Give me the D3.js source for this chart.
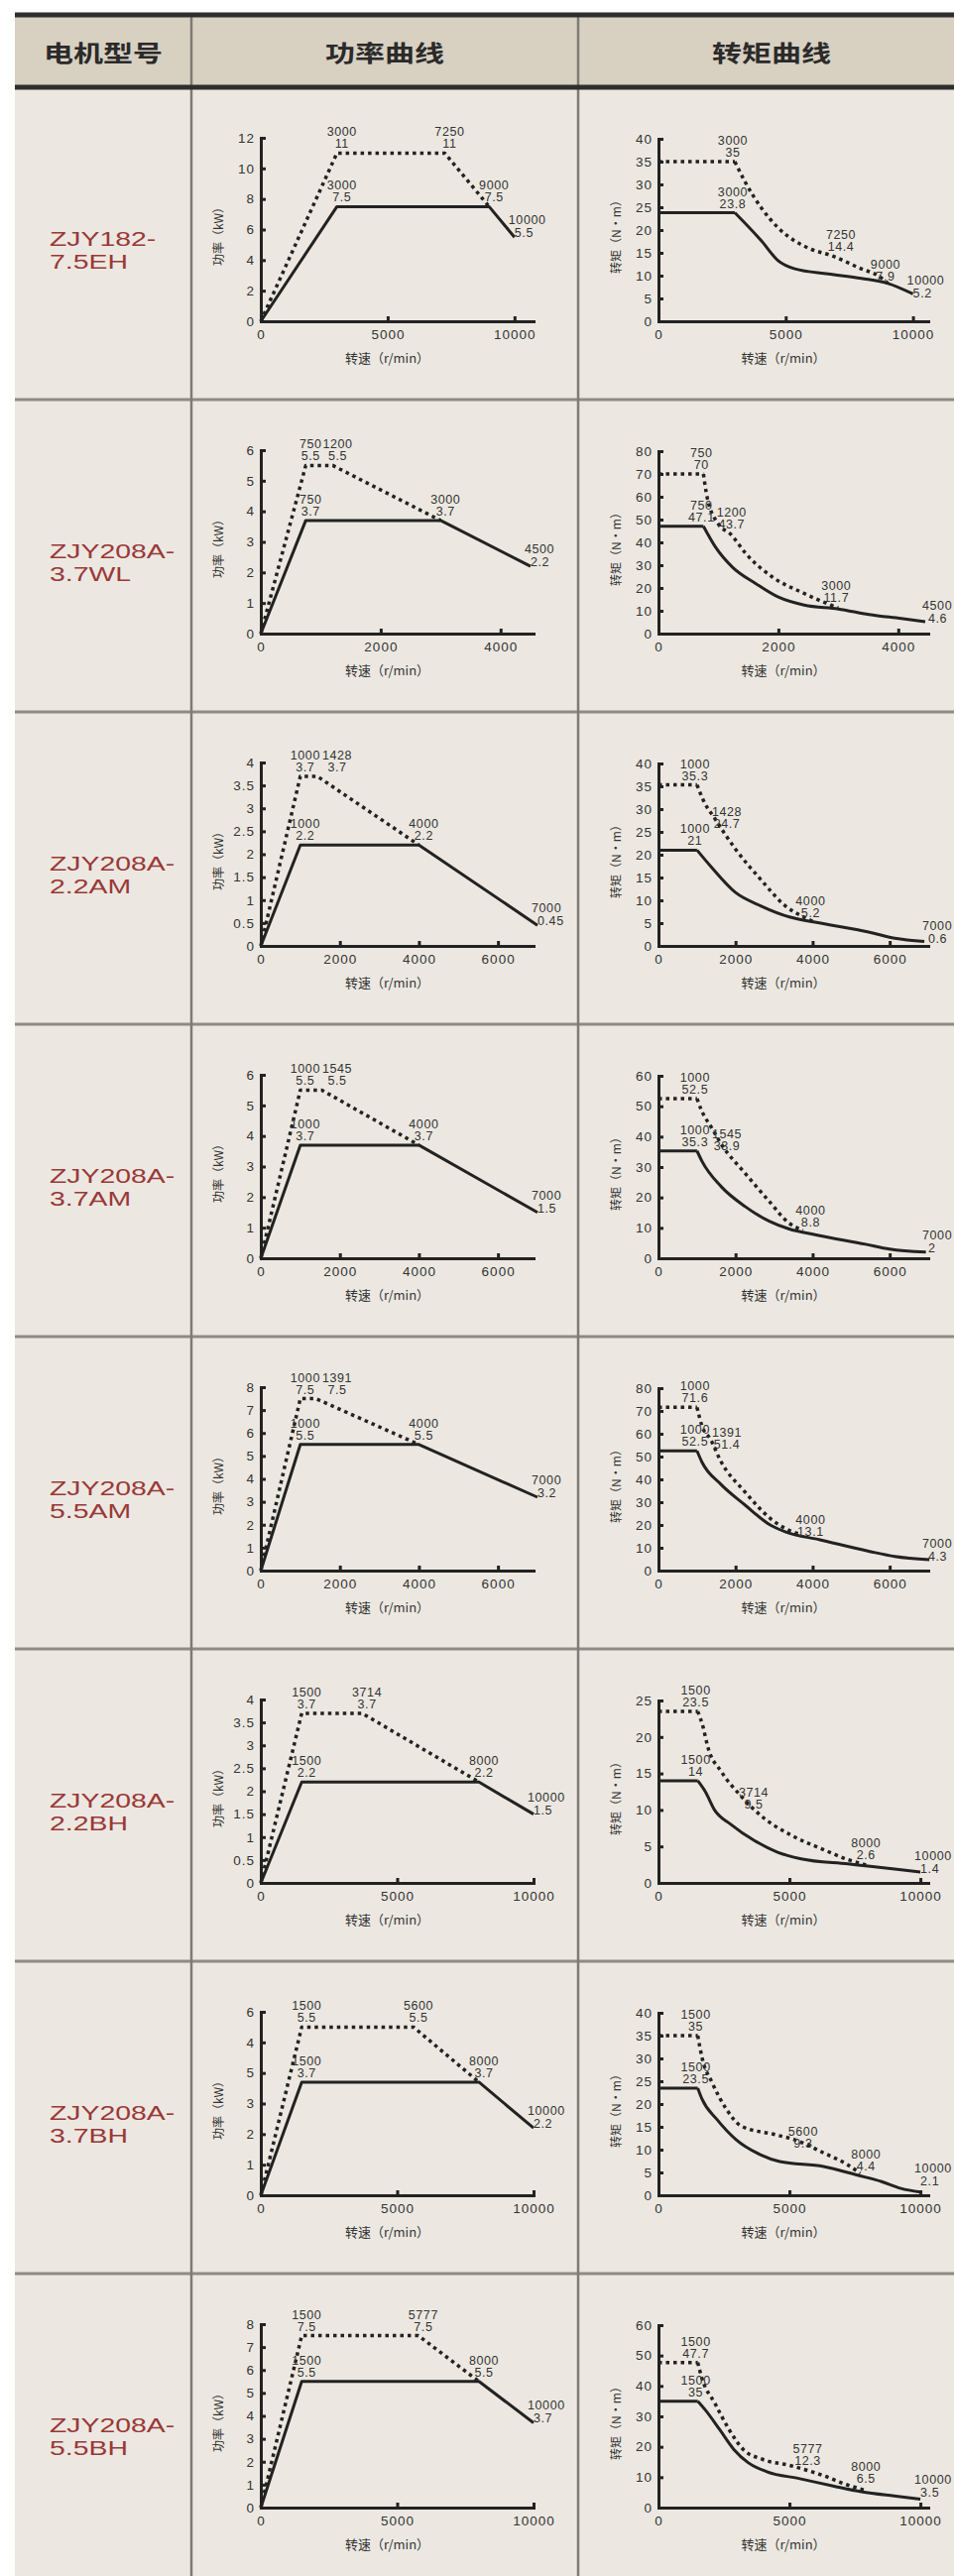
<!DOCTYPE html>
<html><head><meta charset="utf-8">
<script src="https://cdn.jsdelivr.net/npm/d3@7"></script>
<style>body{margin:0;background:#fff}svg{display:block}</style>
</head><body>
<svg id="c" width="962" height="2598"></svg>
<script>
// ---------------- DATA ----------------
const headers = ["电机型号", "功率曲线", "转矩曲线"];
const modelLine1 = ["ZJY182-", "ZJY208A-", "ZJY208A-", "ZJY208A-", "ZJY208A-", "ZJY208A-", "ZJY208A-", "ZJY208A-"];
const modelLine2 = ["7.5EH", "3.7WL", "2.2AM", "3.7AM", "5.5AM", "2.2BH", "3.7BH", "5.5BH"];

const powerTitle = "功率（kW）";
const torqueTitle = "转矩（N·m）";
const speedTitle = "转速（r/min）";

// power charts
const powerXTicks = [[0,5000,10000],[0,2000,4000],[0,2000,4000,6000],[0,2000,4000,6000],[0,2000,4000,6000],[0,5000,10000],[0,5000,10000],[0,5000,10000]];
const powerXMax = [10750, 4550, 6900, 6900, 6900, 10000, 10000, 10000];
const powerYTicks = [[0,2,4,6,8,10,12],[0,1,2,3,4,5,6],[0,0.5,1,1.5,2,2.5,3,3.5,4],[0,1,2,3,4,5,6],[0,1,2,3,4,5,6,7,8],[0,0.5,1,1.5,2,2.5,3,3.5,4],[0,1,2,3,4,5,6],[0,1,2,3,4,5,6,7,8]];
const powerYTickText = [
  ["0","2","4","6","8","10","12"],["0","1","2","3","4","5","6"],["0","0.5","1","1.5","2","2.5","3","3.5","4"],
  ["0","1","2","3","4","5","6"],["0","1","2","3","4","5","6","7","8"],["0","0.5","1","1.5","2","2.5","3","3.5","4"],
  ["0","1","2","3","5","4","6"],["0","1","2","3","4","5","6","7","8"]];
const powerRated = [
  [[0,0],[3000,7.5],[9000,7.5],[10000,5.5]],
  [[0,0],[750,3.7],[3000,3.7],[4500,2.2]],
  [[0,0],[1000,2.2],[4000,2.2],[7000,0.45]],
  [[0,0],[1000,3.7],[4000,3.7],[7000,1.5]],
  [[0,0],[1000,5.5],[4000,5.5],[7000,3.2]],
  [[0,0],[1500,2.2],[8000,2.2],[10000,1.5]],
  [[0,0],[1500,3.7],[8000,3.7],[10000,2.2]],
  [[0,0],[1500,5.5],[8000,5.5],[10000,3.7]]];
const powerPeak = [
  [[0,0],[3000,11],[7250,11],[9000,7.5]],
  [[0,0],[750,5.5],[1200,5.5],[3000,3.7]],
  [[0,0],[1000,3.7],[1428,3.7],[4000,2.2]],
  [[0,0],[1000,5.5],[1545,5.5],[4000,3.7]],
  [[0,0],[1000,7.5],[1391,7.5],[4000,5.5]],
  [[0,0],[1500,3.7],[3714,3.7],[8000,2.2]],
  [[0,0],[1500,5.5],[5600,5.5],[8000,3.7]],
  [[0,0],[1500,7.5],[5777,7.5],[8000,5.5]]];
const powerLabels = [
  [[3000,11,"3000","11"],[7250,11,"7250","11"],[3000,7.5,"3000","7.5"],[9000,7.5,"9000","7.5"],[10000,5.5,"10000","5.5"]],
  [[750,5.5,"750","5.5"],[1200,5.5,"1200","5.5"],[750,3.7,"750","3.7"],[3000,3.7,"3000","3.7"],[4500,2.2,"4500","2.2"]],
  [[1000,3.7,"1000","3.7"],[1428,3.7,"1428","3.7"],[1000,2.2,"1000","2.2"],[4000,2.2,"4000","2.2"],[7000,0.45,"7000","0.45"]],
  [[1000,5.5,"1000","5.5"],[1545,5.5,"1545","5.5"],[1000,3.7,"1000","3.7"],[4000,3.7,"4000","3.7"],[7000,1.5,"7000","1.5"]],
  [[1000,7.5,"1000","7.5"],[1391,7.5,"1391","7.5"],[1000,5.5,"1000","5.5"],[4000,5.5,"4000","5.5"],[7000,3.2,"7000","3.2"]],
  [[1500,3.7,"1500","3.7"],[3714,3.7,"3714","3.7"],[1500,2.2,"1500","2.2"],[8000,2.2,"8000","2.2"],[10000,1.5,"10000","1.5"]],
  [[1500,5.5,"1500","5.5"],[5600,5.5,"5600","5.5"],[1500,3.7,"1500","3.7"],[8000,3.7,"8000","3.7"],[10000,2.2,"10000","2.2"]],
  [[1500,7.5,"1500","7.5"],[5777,7.5,"5777","7.5"],[1500,5.5,"1500","5.5"],[8000,5.5,"8000","5.5"],[10000,3.7,"10000","3.7"]]];

// torque charts
const torqueXTicks = [[0,5000,10000],[0,2000,4000],[0,2000,4000,6000],[0,2000,4000,6000],[0,2000,4000,6000],[0,5000,10000],[0,5000,10000],[0,5000,10000]];
const torqueXMax = [10600, 4500, 7000, 7000, 7000, 10300, 10300, 10300];
const torqueYTicks = [[0,5,10,15,20,25,30,35,40],[0,10,20,30,40,50,60,70,80],[0,5,10,15,20,25,30,35,40],[0,10,20,30,40,50,60],[0,10,20,30,40,50,60,70,80],[0,5,10,15,20,25],[0,5,10,15,20,25,30,35,40],[0,10,20,30,40,50,60]];
const torqueRated = [
  [[0,23.8],[3000,23.8],[4050,17.6],[4700,13.3],[5360,11.5],[6670,10.4],[7970,9.4],[9020,8.3],[10000,6.0]],
  [[0,47.1],[750,47.1],[950,38],[1240,29],[1620,22],[2000,16],[2430,12.5],[3000,10.8],[3510,8.4],[4050,6.6],[4450,5.2]],
  [[0,21],[1000,21],[1350,17.5],[2000,11.7],[2650,8.8],[3420,6.3],[4060,5.2],[5480,3],[6130,1.7],[6900,1.0]],
  [[0,35.3],[1000,35.3],[1125,32],[1625,23.6],[2250,17],[2875,12.2],[3375,9.7],[4125,7.6],[5375,4.6],[6000,3],[6940,2]],
  [[0,52.5],[1000,52.5],[1130,47.5],[1610,38],[2250,28.7],[2900,20],[3290,17],[4190,13.5],[5480,8.4],[6130,6.2],[7030,4.8]],
  [[0,14],[1500,14],[1790,12.5],[2140,10],[2770,8],[3660,5.8],[4550,4.2],[5450,3.3],[7230,2.6],[8000,2.3],[9020,1.9],[10000,1.5]],
  [[0,23.5],[1500,23.5],[1670,21],[2220,16.7],[2960,12.2],[3890,8.9],[4630,7.4],[6300,6.3],[7600,4.4],[8520,3],[9260,1.5],[10000,0.7]],
  [[0,35],[1500,35],[1800,32],[2340,25.6],[2880,19.1],[3420,14.8],[4140,11.8],[5400,9.5],[6670,7.1],[7750,5.2],[9000,3.8],[10000,2.8]]];
const torquePeak = [
  [[0,35],[3000,35],[3400,30.6],[4050,24.8],[4700,20.5],[5360,17.6],[6000,15.8],[6800,14.4],[7970,11.5],[8630,10],[9020,8.3]],
  [[0,70],[750,70],[810,60],[1000,48],[1200,43.7],[1460,35],[1890,25],[2430,17.6],[3000,11.2]],
  [[0,35.3],[1000,35.3],[1160,32],[1480,27.7],[2000,21.2],[2650,14.6],[3290,8.8],[3800,6.2],[4060,5.2]],
  [[0,52.5],[1000,52.5],[1125,48.4],[1375,43],[1625,37.6],[2250,27.9],[2875,18.7],[3375,11.7],[3750,9.2]],
  [[0,71.6],[1000,71.6],[1130,63.4],[1350,57.6],[1610,48.2],[2250,34.4],[2900,22.9],[3290,18.5],[3700,15.8]],
  [[0,23.5],[1500,23.5],[1700,21.4],[1875,18.75],[2410,15.2],[3125,12],[4020,8.9],[5090,6.5],[6340,4.5],[7230,3.2],[8000,2.4]],
  [[0,35],[1500,35],[1670,30],[2040,24.8],[2590,18.9],[3150,15.2],[4440,13.3],[5190,12.2],[6300,9.3],[7220,6.7],[7700,4.8]],
  [[0,47.7],[1500,47.7],[1650,42.8],[2160,34.2],[2700,25.6],[3240,19.1],[3960,15.9],[5050,13.8],[6300,10.5],[7200,7.5],[7930,5.6]]];
const torqueLabels = [
  [[3000,35,"3000","35"],[3000,23.8,"3000","23.8"],[7250,14.4,"7250","14.4"],[9000,7.9,"9000","7.9"],[10000,5.2,"10000","5.2"]],
  [[750,70,"750","70"],[750,47.1,"750","47.1"],[1200,43.7,"1200","43.7"],[3000,11.7,"3000","11.7"],[4500,4.6,"4500","4.6"]],
  [[1000,35.3,"1000","35.3"],[1000,21,"1000","21"],[1428,24.7,"1428","24.7"],[4000,5.2,"4000","5.2"],[7000,0.6,"7000","0.6"]],
  [[1000,52.5,"1000","52.5"],[1000,35.3,"1000","35.3"],[1545,33.9,"1545","33.9"],[4000,8.8,"4000","8.8"],[7000,2,"7000","2"]],
  [[1000,71.6,"1000","71.6"],[1000,52.5,"1000","52.5"],[1391,51.4,"1391","51.4"],[4000,13.1,"4000","13.1"],[7000,4.3,"7000","4.3"]],
  [[1500,23.5,"1500","23.5"],[1500,14,"1500","14"],[3714,9.5,"3714","9.5"],[8000,2.6,"8000","2.6"],[10000,1.4,"10000","1.4"]],
  [[1500,35,"1500","35"],[1500,23.5,"1500","23.5"],[5600,9.3,"5600","9.3"],[8000,4.4,"8000","4.4"],[10000,2.1,"10000","2.1"]],
  [[1500,47.7,"1500","47.7"],[1500,35,"1500","35"],[5777,12.3,"5777","12.3"],[8000,6.5,"8000","6.5"],[10000,3.5,"10000","3.5"]]];

// ---------------- LAYOUT ----------------
const W = 962, H = 2598;
const tableL = 15, col1 = 193, col2 = 583, tableR = 962;
const topY = 15, headY = 88, rowH = 315;
const INK = "#222";
const FONT = "'Liberation Sans', Arial, 'Noto Sans CJK SC', sans-serif";
const CJK = "'Noto Sans CJK SC', 'Liberation Sans', sans-serif";

const svg = d3.select("#c");

svg.append("rect").attr("x", tableL).attr("y", topY).attr("width", tableR - tableL).attr("height", headY - topY).attr("fill", "#d8d0c1");
svg.append("rect").attr("x", tableL).attr("y", headY).attr("width", tableR - tableL).attr("height", H - headY).attr("fill", "#ece8e1");

const rowIdx = d3.range(modelLine1.length);
svg.selectAll("line.row").data(rowIdx.slice(1).concat([modelLine1.length])).join("line")
  .attr("x1", tableL).attr("x2", tableR)
  .attr("y1", d => headY + d * rowH).attr("y2", d => headY + d * rowH)
  .attr("stroke", "#8e8a84").attr("stroke-width", 3);
svg.selectAll("line.col").data([col1, col2]).join("line")
  .attr("x1", d => d).attr("x2", d => d).attr("y1", topY).attr("y2", H)
  .attr("stroke", "#7e7a74").attr("stroke-width", 2.5);
svg.append("line").attr("x1", tableL).attr("x2", tableR).attr("y1", topY).attr("y2", topY).attr("stroke", "#2e2e2e").attr("stroke-width", 5);
svg.append("line").attr("x1", tableL).attr("x2", tableR).attr("y1", headY).attr("y2", headY).attr("stroke", "#2e2e2e").attr("stroke-width", 5);

const headCenters = [(tableL + col1) / 2, (col1 + col2) / 2, 778];
svg.selectAll("text.head").data(headers).join("text")
  .attr("x", (d, i) => headCenters[i]).attr("y", 62)
  .attr("text-anchor", "middle").attr("font-family", CJK).attr("font-weight", 700)
  .attr("font-size", 23).attr("fill", "#2a2a2a")
  .attr("textLength", 120).attr("lengthAdjust", "spacingAndGlyphs")
  .text(d => d);

rowIdx.forEach(i => {
  const top = headY + i * rowH;
  [[modelLine1[i], 160], [modelLine2[i], 183]].forEach(([t, dy]) => {
    const el = svg.append("text").attr("x", 50).attr("y", top + dy)
      .attr("font-family", FONT).attr("font-size", 20).attr("fill", "#9a3838").text(t);
    const len = el.node().getComputedTextLength();
    el.attr("textLength", len * 1.42).attr("lengthAdjust", "spacingAndGlyphs");
  });
});

// ---------------- CHARTS ----------------
function overlaps(a, b) {
  return a.x < b.x + b.width && b.x < a.x + a.width && a.y < b.y + b.height && b.y < a.y + a.height;
}

function drawChart(frame, cfg) {
  const g = svg.append("g");
  const x = d3.scaleLinear().domain([0, cfg.xMax]).range([frame.x0, frame.x1]);
  const y = d3.scaleLinear().domain([0, d3.max(cfg.yTicks)]).range([frame.yb, frame.yt]);

  const xa = g.append("g").attr("transform", `translate(0,${frame.yb})`)
    .call(d3.axisBottom(x).tickValues(cfg.xTicks).tickSize(-5).tickSizeOuter(0).tickPadding(8).tickFormat(d => String(d)));
  const ya = g.append("g").attr("transform", `translate(${frame.x0},0)`)
    .call(d3.axisLeft(y).tickValues(cfg.yTicks).tickSize(-5).tickSizeOuter(0).tickPadding(6)
      .tickFormat((d, i) => cfg.yTickText ? cfg.yTickText[i] : String(d)));
  [xa, ya].forEach(a => {
    a.attr("font-family", FONT).attr("font-size", 13.5);
    a.select(".domain").attr("stroke", INK).attr("stroke-width", 3).attr("stroke-linecap", "square");
    a.selectAll(".tick line").attr("stroke", INK).attr("stroke-width", 3);
    a.selectAll(".tick text").attr("fill", "#333").attr("letter-spacing", 1);
  });

  g.append("text").attr("x", (frame.x0 + frame.x1) / 2 - 10).attr("y", frame.yb + 42)
    .attr("text-anchor", "middle").attr("font-family", CJK).attr("font-size", 13).attr("fill", "#333")
    .text(speedTitle);
  g.append("text").attr("transform", `translate(${frame.x0 - 38},${(frame.yb + frame.yt) / 2 + 4}) rotate(-90)`)
    .attr("text-anchor", "middle").attr("font-family", CJK).attr("font-size", 12).attr("fill", "#333")
    .text(cfg.yTitle);

  const lin = d3.line().x(d => x(d[0])).y(d => y(d[1]));
  const smooth = d3.line().x(d => x(d[0])).y(d => y(d[1])).curve(d3.curveMonotoneX);

  function series(pts, dashed) {
    const style = p => p.attr("fill", "none").attr("stroke", INK)
      .attr("stroke-width", dashed ? 3.5 : 3)
      .attr("stroke-dasharray", dashed ? "3.5,4" : null)
      .attr("stroke-linejoin", "round");
    if (cfg.smooth) {
      g.append("path").attr("d", lin(pts.slice(0, 2))).call(style);
      g.append("path").attr("d", smooth(pts.slice(1))).call(style);
    } else {
      g.append("path").attr("d", lin(pts)).call(style);
    }
  }
  series(cfg.rated, false);
  series(cfg.peak, true);

  const lastX = cfg.rated[cfg.rated.length - 1][0];
  const placed = [];
  cfg.labels.forEach(l => {
    const px = x(l[0]), py = y(l[1]);
    const isEnd = l[0] >= lastX * 0.97;
    const t = g.append("text").attr("font-family", FONT).attr("font-size", 12.5).attr("fill", "#333")
      .attr("letter-spacing", 0.6)
      .attr("text-anchor", isEnd ? "start" : "middle");
    const tx = isEnd ? px - 6 : px + cfg.labelDx;
    t.append("tspan").attr("x", tx).attr("y", isEnd ? py - 13 : py - 17).text(l[2]);
    t.append("tspan").attr("x", tx + (isEnd ? 6 : 0)).attr("y", isEnd ? py : py - 5).text(l[3]);
    // push right until it no longer collides with labels already placed
    let shift = 0;
    for (let k = 0; k < 10; k++) {
      const b = t.node().getBBox();
      const bb = { x: b.x + shift, y: b.y, width: b.width, height: b.height };
      const hit = placed.find(p => overlaps(bb, p));
      if (!hit) { placed.push(bb); break; }
      shift += (hit.x + hit.width + 2) - bb.x;
    }
    if (shift) t.attr("transform", `translate(${shift},0)`);
  });
}

rowIdx.forEach(i => {
  const top = headY + i * rowH;
  drawChart({ x0: 263, x1: 538, yb: top + 236, yt: top + 51 }, {
    xTicks: powerXTicks[i], xMax: powerXMax[i], yTicks: powerYTicks[i], yTickText: powerYTickText[i],
    rated: powerRated[i], peak: powerPeak[i], labels: powerLabels[i], yTitle: powerTitle, smooth: false, labelDx: 5
  });
  drawChart({ x0: 664, x1: 936, yb: top + 236, yt: top + 52 }, {
    xTicks: torqueXTicks[i], xMax: torqueXMax[i], yTicks: torqueYTicks[i], yTickText: null,
    rated: torqueRated[i], peak: torquePeak[i], labels: torqueLabels[i], yTitle: torqueTitle, smooth: true, labelDx: -2
  });
});
</script>
</body></html>
